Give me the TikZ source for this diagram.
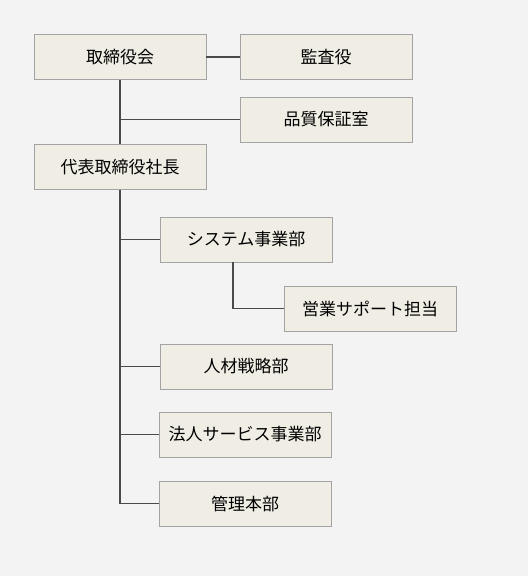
\documentclass[tikz,border=0pt]{standalone}
\usepackage{fontspec}
\setmainfont{Noto Sans CJK JP}
\definecolor{bgcol}{HTML}{F3F3F3}
\definecolor{boxfill}{HTML}{F0EEE4}
\definecolor{boxline}{HTML}{A3A3A3}
\definecolor{linkcol}{HTML}{4A4A4A}
\tikzset{
  unit/.style={draw=boxline, fill=boxfill, minimum width=172pt, minimum height=45pt,
    inner sep=0pt, font=\fontsize{17}{20}\selectfont},
  link/.style={draw=linkcol, line width=1.2pt}
}
\begin{document}
\begin{tikzpicture}[x=1pt,y=-1pt]
\fill[bgcol] (0,0) rectangle (528,576);
\useasboundingbox (0,0) rectangle (528,576);
% Board level
\node[unit] (board) at (120,57) {取締役会};
\node[unit] (audit) at (326,57) {監査役};
\node[unit] (qa) at (326,119.5) {品質保証室};
\node[unit] (pres) at (120,167) {代表取締役社長};
% Departments
\node[unit] (sysdiv) at (246,239.5) {システム事業部};
\node[unit] (salessup) at (370,308.5) {営業サポート担当};
\node[unit] (hrdiv) at (246,366.5) {人材戦略部};
\node[unit] (corpdiv) at (245,434.5) {法人サービス事業部};
\node[unit] (admdiv) at (245,503.5) {管理本部};
% Lines under the board
\draw[link] (board.east) -- (audit.west);
\draw[link] (board.south) -- (pres.north);
\draw[link] (board.south) |- (qa.west);
% Lines under the president
\draw[link] (pres.south) |- (sysdiv.west);
\draw[link] (pres.south) |- (hrdiv.west);
\draw[link] (pres.south) |- (corpdiv.west);
\draw[link] (pres.south) |- (admdiv.west);
\draw[link] (sysdiv.south -| 233,0) |- (salessup.west);
\end{tikzpicture}
\end{document}
